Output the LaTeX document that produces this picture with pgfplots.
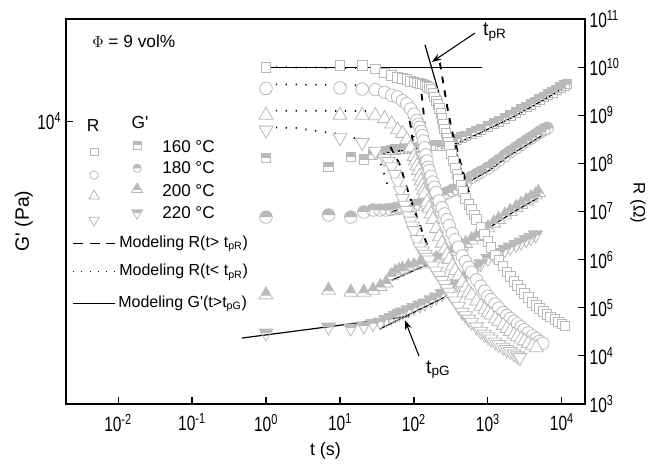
\documentclass[border=0pt]{standalone}
\usepackage{pgfplots}
\pgfplotsset{compat=1.18}
\usepackage{fontspec}
\setmainfont{Liberation Sans}
\newfontfamily\tickfont[FakeStretch=0.75]{Liberation Sans}
\usetikzlibrary{arrows.meta}

\definecolor{mk}{RGB}{185,185,185}

% half filled marks for G'
\pgfdeclareplotmark{hsquare}{%
  \pgfpathrectangle{\pgfqpoint{-\pgfplotmarksize}{0pt}}{\pgfqpoint{2\pgfplotmarksize}{\pgfplotmarksize}}%
  \pgfusepathqfill
  \pgfpathrectangle{\pgfqpoint{-\pgfplotmarksize}{-\pgfplotmarksize}}{\pgfqpoint{2\pgfplotmarksize}{2\pgfplotmarksize}}%
  \pgfusepathqstroke}
\pgfdeclareplotmark{hcircle}{%
  \pgfpathmoveto{\pgfqpoint{\pgfplotmarksize}{0pt}}%
  \pgfpatharc{0}{180}{\pgfplotmarksize}%
  \pgfpathclose
  \pgfusepathqfill
  \pgfpathcircle{\pgfpointorigin}{\pgfplotmarksize}%
  \pgfusepathqstroke}
\pgfdeclareplotmark{htri}{%
  \pgfpathmoveto{\pgfqpoint{0pt}{\pgfplotmarksize}}%
  \pgfpathlineto{\pgfqpoint{-0.635\pgfplotmarksize}{-0.1\pgfplotmarksize}}%
  \pgfpathlineto{\pgfqpoint{0.635\pgfplotmarksize}{-0.1\pgfplotmarksize}}%
  \pgfpathclose
  \pgfusepathqfill
  \pgfpathmoveto{\pgfqpoint{0pt}{\pgfplotmarksize}}%
  \pgfpathlineto{\pgfqpoint{-0.866\pgfplotmarksize}{-0.5\pgfplotmarksize}}%
  \pgfpathlineto{\pgfqpoint{0.866\pgfplotmarksize}{-0.5\pgfplotmarksize}}%
  \pgfpathclose
  \pgfusepathqstroke}
\pgfdeclareplotmark{htridown}{%
  \pgfpathmoveto{\pgfqpoint{-0.866\pgfplotmarksize}{0.5\pgfplotmarksize}}%
  \pgfpathlineto{\pgfqpoint{0.866\pgfplotmarksize}{0.5\pgfplotmarksize}}%
  \pgfpathlineto{\pgfqpoint{0.577\pgfplotmarksize}{0pt}}%
  \pgfpathlineto{\pgfqpoint{-0.577\pgfplotmarksize}{0pt}}%
  \pgfpathclose
  \pgfusepathqfill
  \pgfpathmoveto{\pgfqpoint{0pt}{-\pgfplotmarksize}}%
  \pgfpathlineto{\pgfqpoint{-0.866\pgfplotmarksize}{0.5\pgfplotmarksize}}%
  \pgfpathlineto{\pgfqpoint{0.866\pgfplotmarksize}{0.5\pgfplotmarksize}}%
  \pgfpathclose
  \pgfusepathqstroke}

\pgfplotsset{
  Rsq/.style={only marks, mark=square*, mark options={draw=mk, fill=white, line width=0.6pt}},
  Rci/.style={only marks, mark=*, mark options={draw=mk, fill=white, line width=0.6pt}},
  Rtu/.style={only marks, mark=triangle*, mark options={draw=mk, fill=white, line width=0.6pt}},
  Rtd/.style={only marks, mark=triangle*, mark options={draw=mk, fill=white, line width=0.6pt, rotate=180}},
  Gsq/.style={only marks, mark=hsquare, mark options={draw=mk, fill=mk, line width=0.6pt}},
  Gci/.style={only marks, mark=hcircle, mark options={draw=mk, fill=mk, line width=0.6pt}},
  Gtu/.style={only marks, mark=htri, mark options={draw=mk, fill=mk, line width=0.6pt}},
  Gtd/.style={only marks, mark=htridown, mark options={draw=mk, fill=mk, line width=0.6pt}},
  dashR/.style={black, no marks, line width=1.4pt, dash pattern=on 5pt off 5.5pt},
  dotR/.style={black, no marks, line width=1.3pt, dash pattern=on 0.9pt off 6.5pt},
  fitG/.style={black, no marks, line width=0.9pt},
}

\begin{document}
\begin{tikzpicture}
% ---------------- G' (left axis) ----------------
\begin{axis}[
  scale only axis, width=389.25pt, height=288.75pt,
  xmode=log, ymode=log, xmin=0.00198, xmax=20500,
  ymin=339, ymax=33900,
  tick align=inside, major tick length=5pt,
  xminorticks=false, yminorticks=false,
  axis line style={line width=0.9pt},
  tick style={line width=0.8pt, black},
  tick label style={font=\tickfont\fontsize{15.5}{17}\selectfont},
  xticklabel style={yshift=-4pt},
  xtick pos=bottom, ytick pos=left,
  xtick={0.01,0.1,1,10,100,1000,10000},
  xticklabels={10\textsuperscript{-2},10\textsuperscript{-1},10\textsuperscript{0},10\textsuperscript{1},10\textsuperscript{2},10\textsuperscript{3},10\textsuperscript{4}},
  ytick={10000}, yticklabels={10\textsuperscript{4}},
  xlabel={t (s)}, ylabel={G\textquotesingle{} (Pa)},
  xlabel style={font=\fontsize{13.5}{16}\selectfont, at={(axis description cs:0.5,-0.122)}, anchor=center},
  ylabel style={font=\fontsize{14.5}{16}\selectfont, at={(axis description cs:-0.081,0.475)}, anchor=center},
]
\coordinate (bl) at (rel axis cs:0,0);
\coordinate (tr) at (rel axis cs:1,1);

% G' 160 C
\addplot[Gsq, mark size=3.6pt] coordinates {(1,6430)(7,5770)(14,6500)(21,6300)(28,6700)(35,6820)(42,6950)(49,7070)(56,7100)(63,7150)(70,7180)(84,7230)(100,7250)(120,7330)(140,7380)(170,7430)(200,7450)(240,7480)(280,7600)(330,7830)(380,8030)(440,8230)(500,8390)(600,8630)(700,8830)(800,9030)(1000,9380)(1200,9690)(1400,9950)(1700,10330)(2000,10690)(2400,11090)(2800,11460)(3300,11840)(3800,12190)(4400,12600)(5000,12970)(5700,13360)(6500,13770)(7400,14130)(8400,14520)(9500,14920)(10700,15300)(11700,15560)};
% G' 180 C
\addplot[Gci, mark size=4.7pt] coordinates {(1,3170)(7,3250)(14,3170)(21,3370)(28,3450)(35,3450)(42,3450)(49,3475)(56,3515)(63,3530)(70,3550)(84,3570)(100,3640)(120,3680)(140,3770)(170,3910)(200,4000)(240,4110)(280,4230)(330,4360)(380,4460)(440,4610)(500,4810)(600,5100)(700,5270)(800,5430)(1000,5690)(1200,5980)(1400,6250)(1700,6620)(2000,6920)(2400,7250)(2800,7550)(3300,7870)(3800,8150)(4400,8460)(5000,8750)(5700,9020)(6300,9170)};
% G' 200 C
\addplot[Gtu, mark size=6pt] coordinates {(1,1250)(7,1320)(14,1290)(21,1290)(28,1320)(35,1380)(42,1440)(49,1570)(56,1640)(63,1670)(70,1700)(84,1750)(100,1770)(120,1810)(140,1840)(170,1880)(200,1930)(240,1990)(280,2040)(330,2110)(380,2170)(440,2240)(500,2310)(600,2410)(700,2510)(800,2610)(1000,2790)(1200,2950)(1400,3080)(1700,3250)(2000,3390)(2400,3550)(2800,3690)(3300,3850)(3800,3990)(4400,4130)(4800,4250)};
% G' 220 C
\addplot[Gtd, mark size=6pt] coordinates {(1,792)(7,851)(14,841)(21,861)(28,887)(35,903)(42,931)(49,953)(56,979)(63,1000)(70,1019)(84,1045)(100,1074)(120,1107)(140,1135)(170,1178)(200,1219)(240,1270)(280,1321)(330,1377)(380,1435)(440,1507)(500,1570)(600,1663)(700,1742)(800,1816)(1000,1931)(1200,2007)(1400,2073)(1700,2148)(2000,2213)(2400,2285)(2800,2350)(3300,2421)(3800,2483)(4400,2564)};

% G' model lines
\addplot[black, no marks, line width=1.1pt, dash pattern=on 5pt off 5.5pt] coordinates {(38,6820)(417,7690)};
\addplot[fitG] coordinates {(417,7780)(780,8670)(2180,10490)(5040,12560)(11000,15030)};
\addplot[black, no marks, line width=1.1pt, dash pattern=on 5pt off 5.5pt] coordinates {(50,3370)(181,4030)(608,4940)};
\addplot[fitG] coordinates {(608,4940)(1064,5570)(1810,6500)(3160,7410)(5540,8460)};
\addplot[fitG] coordinates {(50,1490)(181,1850)};
\addplot[fitG] coordinates {(1064,2810)(2320,3410)(4740,3980)};
\addplot[fitG] coordinates {(0.474,746)(88,970)};
\addplot[fitG] coordinates {(34.7,832)(263,1219)};
\addplot[fitG] coordinates {(65,1019)(263,1325)};
\addplot[fitG] coordinates {(1600,2140)(3940,2560)};
\end{axis}

% ---------------- R (right axis) ----------------
\begin{axis}[
  scale only axis, width=389.25pt, height=288.75pt,
  xmode=log, ymode=log, xmin=0.00198, xmax=20500,
  ymin=1e3, ymax=1e11,
  tick align=inside, major tick length=5pt,
  xminorticks=false, yminorticks=false,
  axis line style={line width=0.9pt},
  tick style={line width=0.8pt, black},
  tick label style={font=\tickfont\fontsize{15.5}{17}\selectfont},
  axis x line=none, axis y line*=right,
  ytick={1e3,1e4,1e5,1e6,1e7,1e8,1e9,1e10,1e11},
  yticklabels={10\textsuperscript{3},10\textsuperscript{4},10\textsuperscript{5},10\textsuperscript{6},10\textsuperscript{7},10\textsuperscript{8},10\textsuperscript{9},10\textsuperscript{10},10\textsuperscript{11}},
  ylabel={R (Ω)},
  ylabel style={font=\fontsize{12.5}{15}\selectfont, at={(axis description cs:1.102,0.522)}, anchor=center, rotate=180},
]
% R 160 C
\addplot[Rsq, mark size=3.6pt] coordinates {(1,1.0e10)(10,1.1e10)(20,1.1e10)(30,9.1e9)(40,7.6e9)(50,6.8e9)(60,6.2e9)(70,5.8e9)(80,5.5e9)(90,5.1e9)(100,4.9e9)(110,4.7e9)(120,4.6e9)(130,4.5e9)(140,4.3e9)(150,4.0e9)(160,3.8e9)(170,3.5e9)(180,2.9e9)(190,2.4e9)(200,2.0e9)(210,1.66e9)(220,1.38e9)(230,1.10e9)(240,8.5e8)(250,6.6e8)(260,5.2e8)(270,4.3e8)(280,3.4e8)(290,2.8e8)(300,2.3e8)(320,1.58e8)(340,1.12e8)(360,8.1e7)(380,6.0e7)(400,4.7e7)(430,3.5e7)(460,2.6e7)(500,1.86e7)(550,1.41e7)(600,1.10e7)(650,8.5e6)(700,6.9e6)(800,4.8e6)(900,3.3e6)(1000,2.4e6)(1100,1.78e6)(1250,1.26e6)(1400,9.8e5)(1600,7.4e5)(1800,5.6e5)(2000,4.5e5)(2250,3.55e5)(2500,2.95e5)(2800,2.4e5)(3100,2.0e5)(3500,1.62e5)(4000,1.29e5)(4500,1.12e5)(5000,9.8e4)(5600,8.5e4)(6300,7.2e4)(7000,6.5e4)(8000,5.75e4)(9000,5.1e4)(10000,4.6e4)(11000,4.2e4)};
% R 180 C
\addplot[Rci, mark size=4.7pt] coordinates {(1,3.6e9)(10,3.7e9)(20,3.5e9)(30,3.4e9)(40,3.0e9)(50,2.6e9)(60,2.4e9)(70,2.0e9)(80,1.74e9)(90,1.35e9)(100,1.05e9)(110,7.8e8)(115,6.5e8)(120,5.6e8)(125,4.6e8)(130,3.8e8)(135,2.9e8)(140,2.1e8)(145,1.5e8)(150,1.12e8)(155,8.3e7)(160,7.1e7)(170,5.4e7)(180,4.1e7)(190,3.2e7)(200,2.5e7)(220,1.66e7)(240,1.2e7)(260,8.9e6)(280,6.8e6)(300,5.1e6)(330,3.5e6)(360,2.6e6)(400,1.82e6)(450,1.2e6)(500,9.1e5)(550,6.9e5)(600,5.5e5)(700,3.8e5)(800,2.8e5)(900,2.2e5)(1000,1.74e5)(1100,1.48e5)(1250,1.2e5)(1400,9.8e4)(1600,8.0e4)(1800,6.9e4)(2000,6.0e4)(2250,5.2e4)(2500,4.6e4)(2800,4.0e4)(3100,3.5e4)(3500,3.0e4)(4000,2.6e4)(4500,2.3e4)(5000,2.0e4)(5500,1.82e4)};
% R 200 C
\addplot[Rtu, mark size=6pt] coordinates {(1,1.0e9)(10,1.0e9)(20,1.0e9)(30,9.8e8)(40,8.5e8)(50,6.6e8)(60,5.0e8)(70,4.2e8)(80,3.1e8)(90,2.1e8)(100,1.38e8)(105,1.12e8)(110,8.9e7)(115,7.1e7)(120,5.4e7)(125,4.3e7)(130,3.4e7)(135,2.75e7)(140,2.3e7)(150,1.58e7)(160,1.17e7)(170,8.9e6)(180,6.8e6)(200,4.4e6)(220,3.0e6)(240,2.2e6)(260,1.62e6)(280,1.26e6)(300,1.0e6)(330,7.4e5)(360,5.9e5)(400,4.6e5)(450,3.4e5)(500,2.6e5)(550,2.1e5)(600,1.82e5)(700,1.38e5)(800,1.07e5)(900,9.1e4)(1000,7.9e4)(1100,7.1e4)(1250,5.9e4)(1400,5.1e4)(1600,4.3e4)(1800,3.7e4)(2000,3.2e4)(2250,2.75e4)(2500,2.5e4)(2800,2.24e4)(3100,2.05e4)(3500,1.82e4)(4000,1.62e4)(4500,1.48e4)};
% R 220 C
\addplot[Rtd, mark size=6pt] coordinates {(1,4.9e8)(10,3.4e8)(20,2.7e8)(30,1.78e8)(40,1.26e8)(45,1.1e8)(50,8.5e7)(55,5.9e7)(60,4.1e7)(65,2.7e7)(70,1.86e7)(75,1.35e7)(80,1.05e7)(85,8.1e6)(90,6.3e6)(95,5.0e6)(100,4.0e6)(110,2.6e6)(120,1.82e6)(130,1.51e6)(140,1.29e6)(150,1.12e6)(160,9.8e5)(180,7.4e5)(200,5.8e5)(220,4.6e5)(240,3.7e5)(260,3.0e5)(280,2.5e5)(300,2.1e5)(330,1.7e5)(360,1.38e5)(400,1.07e5)(450,8.1e4)(500,6.8e4)(550,5.8e4)(600,5.0e4)(700,4.0e4)(800,3.25e4)(900,2.8e4)(1000,2.5e4)(1100,2.24e4)(1250,1.95e4)(1400,1.72e4)(1600,1.51e4)(1800,1.35e4)(2000,1.23e4)(2250,1.1e4)(2500,1.0e4)(2700,9.3e3)};

% R models, t < tpR
\addplot[dotR] coordinates {(1,1e10)(28,9.5e9)(45,7.9e9)(65,7.2e9)(93,5.9e9)(120,4.7e9)(155,3.3e9)(182,2.4e9)(204,1.29e9)};
\addplot[dotR] coordinates {(1,4.4e9)(20,4.2e9)(44,3.5e9)(60,2.5e9)(76,1.5e9)(89,7.5e8)(102,3.0e8)};
\addplot[dotR] coordinates {(1,1.25e9)(30,1.22e9)(45,1.0e9)(55,7.5e8)(69,5.0e8)(81,3.2e8)(98,1.35e8)};
\addplot[dotR] coordinates {(1,5.6e8)(2.6,5.4e8)(5.9,4.5e8)(12.4,3.9e8)(23,2.6e8)(31.6,1.6e8)(38,7.2e7)(45,3.2e7)};
% R models, t > tpR
\addplot[dashR] coordinates {(224,1.23e10)(282,1.48e9)(324,4.9e8)(417,1.17e8)(525,3.2e7)(776,5.8e6)(1175,1.38e6)(2190,3.7e5)(4070,1.26e5)(8500,5.5e4)};
\addplot[dashR] coordinates {(120,5.4e9)(132,1.6e9)(145,3.2e8)(158,7.9e7)(182,3.5e7)(263,8.5e6)(447,1.23e6)(977,1.82e5)(2880,3.8e4)(5250,1.9e4)};
\addplot[dashR] coordinates {(83,1.48e9)(95,3.2e8)(110,9.1e7)(129,3.5e7)(190,5.2e6)(324,7.8e5)(776,1.12e5)(2290,2.7e4)(4370,1.5e4)};
\addplot[dashR] coordinates {(48,2.2e8)(65,9.1e7)(76,4.1e7)(89,1.9e7)(110,7.6e6)(132,3.5e6)(166,1.35e6)(224,4.4e5)(457,7.8e4)(776,3.4e4)(1320,1.82e4)(2570,9.8e3)};

% construction lines for tpR
\addplot[fitG] coordinates {(0.855,1e10)(830,1e10)};
\addplot[fitG] coordinates {(141,2.9e10)(571,1.74e7)};
\draw[line width=0.8pt, -{Stealth[length=7pt,width=5pt]}] (axis cs:667,5.1e10) -- (axis cs:175,1.28e10);
\node[anchor=base west, inner sep=0pt, font=\fontsize{14.5}{16}\selectfont] at (axis cs:855,4.6e10) {t\textsubscript{pR}};
\draw[line width=0.8pt, -{Stealth[length=7pt,width=5pt]}] (axis cs:117,9.9e3) -- (axis cs:75.5,5.5e4);
\node[anchor=base west, inner sep=0pt, font=\fontsize{14.5}{16}\selectfont] at (axis cs:145,4.4e3) {t\textsubscript{pG}};

% legend block
\node[anchor=base west, inner sep=0pt, font=\fontsize{13}{15}\selectfont] at (axis cs:4.45e-3,2.5e10) {$\Phi$ = 9 vol\%};
\node[anchor=base, inner sep=0pt, font=\fontsize{13}{15}\selectfont] at (axis cs:4.6e-3,4.7e8) {R};
\node[anchor=base, inner sep=0pt, font=\fontsize{13}{15}\selectfont] at (axis cs:0.0198,5.4e8) {G\textquotesingle};
\addplot[Rsq, mark size=2.9pt] coordinates {(4.74e-3,1.72e8)};
\addplot[Rci, mark size=3.2pt] coordinates {(4.74e-3,5.7e7)};
\addplot[Rtu, mark size=4.5pt] coordinates {(4.74e-3,2.09e7)};
\addplot[Rtd, mark size=4.5pt] coordinates {(4.74e-3,6.6e6)};
\addplot[Gsq, mark size=3.1pt] coordinates {(0.0181,2.4e8)};
\addplot[Gci, mark size=3.1pt] coordinates {(0.0181,7.9e7)};
\addplot[Gtu, mark size=4.7pt] coordinates {(0.0181,2.9e7)};
\addplot[Gtd, mark size=4.7pt] coordinates {(0.0181,9.3e6)};
\node[anchor=base west, inner sep=0pt, font=\fontsize{12.8}{15}\selectfont] at (axis cs:0.0393,1.72e8) {160 °C};
\node[anchor=base west, inner sep=0pt, font=\fontsize{12.8}{15}\selectfont] at (axis cs:0.0393,6.3e7) {180 °C};
\node[anchor=base west, inner sep=0pt, font=\fontsize{12.8}{15}\selectfont] at (axis cs:0.0393,2.09e7) {200 °C};
\node[anchor=base west, inner sep=0pt, font=\fontsize{12.8}{15}\selectfont] at (axis cs:0.0393,7.3e6) {220 °C};
\addplot[black, no marks, line width=0.8pt, dash pattern=on 7.5pt off 5pt] coordinates {(2.47e-3,2.2e6)(9.1e-3,2.2e6)};
\addplot[black, no marks, line width=0.9pt, dash pattern=on 0.8pt off 5.4pt] coordinates {(2.47e-3,5.77e5)(9.1e-3,5.77e5)};
\addplot[black, no marks, line width=0.8pt] coordinates {(2.47e-3,1.25e5)(9.1e-3,1.25e5)};
\node[anchor=base west, inner sep=0pt, font=\fontsize{12}{14}\selectfont] at (axis cs:0.01032,1.82e6) {Modeling R(t> t\textsubscript{pR})};
\node[anchor=base west, inner sep=0pt, font=\fontsize{12}{14}\selectfont] at (axis cs:0.01032,4.6e5) {Modeling R(t< t\textsubscript{pR})};
\node[anchor=base west, inner sep=0pt, font=\fontsize{12}{14}\selectfont] at (axis cs:0.0100,1.03e5) {Modeling G\textquotesingle(t>t\textsubscript{pG})};
\end{axis}
\pgfresetboundingbox
\path ([shift={(-49.5pt,-48.75pt)}]bl) rectangle ([shift={(59.25pt,14.25pt)}]tr);
\end{tikzpicture}
\end{document}
